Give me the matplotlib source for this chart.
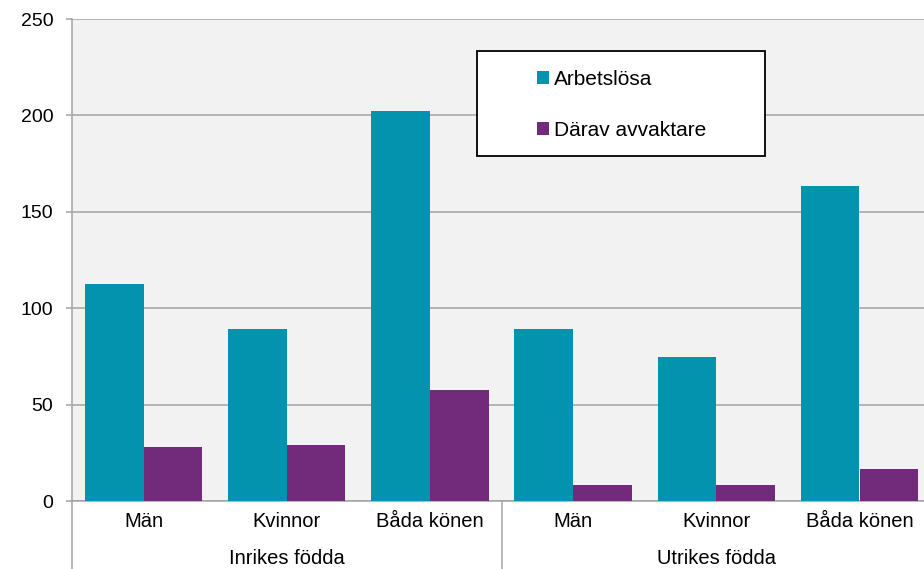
import matplotlib.pyplot as plt
from matplotlib.patches import Patch, Rectangle
import numpy as np

# --- DATA ---
categories = ["Män", "Kvinnor", "Båda könen", "Män", "Kvinnor", "Båda könen"]
groups = ["Inrikes födda", "Utrikes födda"]
arbetslosa = [112.5, 89, 202.5, 89, 74.5, 163.5]
avvaktare = [28, 29, 57.5, 8.5, 8.5, 16.5]
series_names = ["Arbetslösa", "Därav avvaktare"]

TEAL = "#0493ae"
PURPLE = "#722a7a"
GRID = "#a3a3a3"

plt.rcParams['font.family'] = ['Liberation Sans', 'DejaVu Sans']

fig = plt.figure(figsize=(9.24, 5.69), dpi=100)
# plot area runs a bit past the right edge (cropped like the original)
ax = fig.add_axes([71.9 / 924, 1 - 501 / 569, 859.2 / 924, 482 / 569])
ax.set_facecolor("#f2f2f2")

x = np.arange(len(categories))
w = 0.41
ax.bar(x - w / 2, arbetslosa, w, color=TEAL, zorder=3)
ax.bar(x + w / 2, avvaktare, w, color=PURPLE, zorder=3)

ax.set_xlim(-0.5, len(categories) - 0.5)
ax.set_ylim(0, 250)
ax.set_yticks(np.arange(0, 251, 50))
ax.yaxis.grid(True, color=GRID, linewidth=1.1, zorder=1)
ax.set_axisbelow(True)

ax.set_xticks(x)
ax.set_xticklabels(categories)
ax.tick_params(axis='x', length=0, pad=8, labelsize=14.5)
ax.tick_params(axis='y', length=4.5, width=1.1, color=GRID, pad=9, labelsize=14)

for s in ["top", "right"]:
    ax.spines[s].set_visible(False)
for s in ["left", "bottom"]:
    ax.spines[s].set_color(GRID)
    ax.spines[s].set_linewidth(1.1)

# group separators and group labels under the axis
trans = ax.get_xaxis_transform()
drop = -75 / 482
for gx in [-0.5, 2.5]:
    ax.plot([gx, gx], [0, drop], color=GRID, linewidth=1.1, transform=trans, clip_on=False)
for i, g in enumerate(groups):
    ax.text(1 + 3 * i, -57 / 482, g, transform=trans, ha='center', va='center', fontsize=14.5)

# legend box
ax.add_patch(Rectangle((0.4715, 0.7158), 0.3352, 0.2178, transform=ax.transAxes,
                       facecolor="white", edgecolor="black", linewidth=1.3, zorder=5))
handles = [Patch(facecolor=TEAL), Patch(facecolor=PURPLE)]
leg = ax.legend(handles, series_names, loc='upper left', bbox_to_anchor=(0.541, 0.894),
                frameon=False, borderpad=0, borderaxespad=0, handlelength=0.58,
                handleheight=0.58, handletextpad=0.24, labelspacing=1.53, fontsize=15)
leg.set_zorder(6)

fig.savefig("out.png", dpi=100)
